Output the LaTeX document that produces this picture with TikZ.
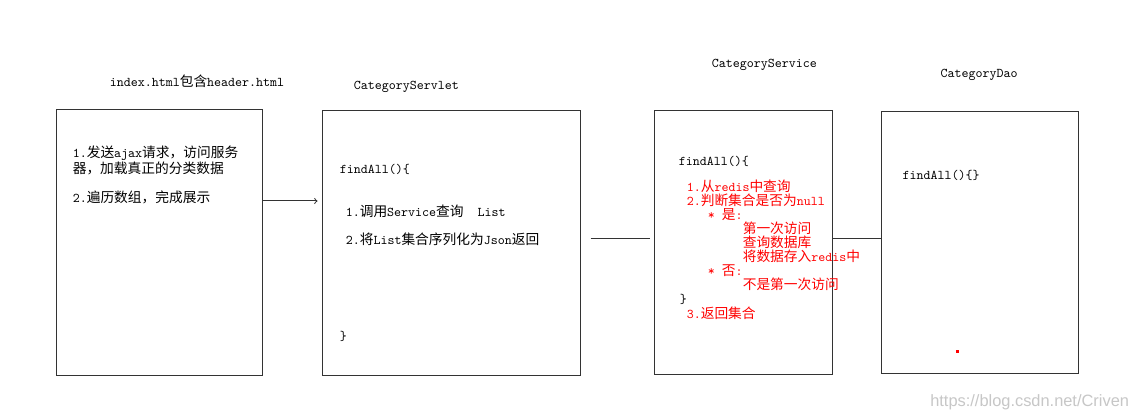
\documentclass[tikz,border=0pt]{standalone}
\usepackage{fontspec}
\newfontfamily\cjk{Noto Sans CJK SC}[Scale=1.03]
\newfontfamily\webfont{Liberation Sans}
\newcommand{\zh}[1]{{\cjk #1}}
\tikzstyle{box} = [rectangle, draw=black!80, line width=0.75pt, fill=white]
\tikzstyle{txt} = [anchor=west, inner sep=0pt, align=left, font=\ttfamily\fontsize{10}{10.5}\selectfont]
\tikzstyle{note} = [txt, text=red]
\tikzstyle{arrow} = [line width=0.75pt, draw=black!80, ->]
\tikzstyle{link} = [line width=0.75pt, draw=black!80]

\begin{document}
\begin{tikzpicture}[x=0.75pt, y=-0.75pt, node distance=219pt]
\fill [white] (0,0) rectangle (1129,420);
\useasboundingbox (0,0) rectangle (1129,420);

% the four boxes
\node (page) [box, minimum width=154.5pt, minimum height=199.5pt] at (159,243) {};
\node (servlet) [box, minimum width=193.5pt, minimum height=198.75pt, right of=page] {};
\node (service) [box, minimum width=133.5pt, minimum height=198pt, right of=servlet] {};
\node (dao) [box, minimum width=147.75pt, minimum height=196.5pt, right of=service, xshift=-40.9pt] {};

% titles
\node (pagetitle) [txt] at ([shift={(54,-28)}]page.north west) {index.html\zh{包含}header.html};
\node (servlettitle) [txt] at ([shift={(32,-23)}]servlet.north west) {CategoryServlet};
\node (servicetitle) [txt] at ([shift={(58,-46)}]service.north west) {CategoryService};
\node (daotitle) [txt] at ([shift={(59,-37)}]dao.north west) {CategoryDao};

% page
\node (ajax) [txt] at ([shift={(17,50.5)}]page.north west) {1.\zh{发送}ajax\zh{请求，访问服务}\\\zh{器，加载真正的分类数据}};
\node (show) [txt] at ([shift={(17,88)}]page.north west) {2.\zh{遍历数组，完成展示}};

% servlet
\node (servletfind) [txt] at ([shift={(18,59)}]servlet.north west) {findAll()\{};
\node (callservice) [txt] at ([shift={(24,101)}]servlet.north west) {1.\zh{调用}Service\zh{查询}~~List};
\node (tojson) [txt] at ([shift={(24,129)}]servlet.north west) {2.\zh{将}List\zh{集合序列化为}Json\zh{返回}};
\node (servletend) [txt] at ([shift={(18,226)}]servlet.north west) {\}};

% service
\node (servicefind) [txt] at ([shift={(25,51)}]service.north west) {findAll()\{};
\node (redis) [note] at ([shift={(33,125)}]service.north west) {1.\zh{从}redis\zh{中查询}\\
2.\zh{判断集合是否为}null\\
\hspace*{15.75pt}* \zh{是}:\\
\hspace*{42pt}\zh{第一次访问}\\
\hspace*{42pt}\zh{查询数据库}\\
\hspace*{42pt}\zh{将数据存入}redis\zh{中}\\
\hspace*{15.75pt}* \zh{否}:\\
\hspace*{42pt}\zh{不是第一次访问}};
\node (serviceend) [txt] at ([shift={(26,189)}]service.north west) {\}};
\node (back) [note] at ([shift={(33,203)}]service.north west) {3.\zh{返回集合}};

% dao
\node (daofind) [txt] at ([shift={(21,64)}]dao.north west) {findAll()\{\}};
\fill [red] ([shift={(75,239)}]dao.north west) rectangle +(2.5,2.5);

% connectors
\draw [arrow, shorten >=3pt] ([yshift=31.5pt]page.east) -- ([yshift=31.5pt]servlet.west);
\draw [link, shorten <=7.5pt, shorten >=3pt] ([yshift=3pt]servlet.east) -- ([yshift=3pt]service.west);
\draw [link] ([yshift=3pt]service.east) -- ([yshift=3pt]dao.west);

\node (mark) [anchor=west, inner sep=0pt, text=black!22, font=\webfont\fontsize{12.3}{14}\selectfont] at (930,402) {https://blog.csdn.net/Criven};

\end{tikzpicture}
\end{document}
